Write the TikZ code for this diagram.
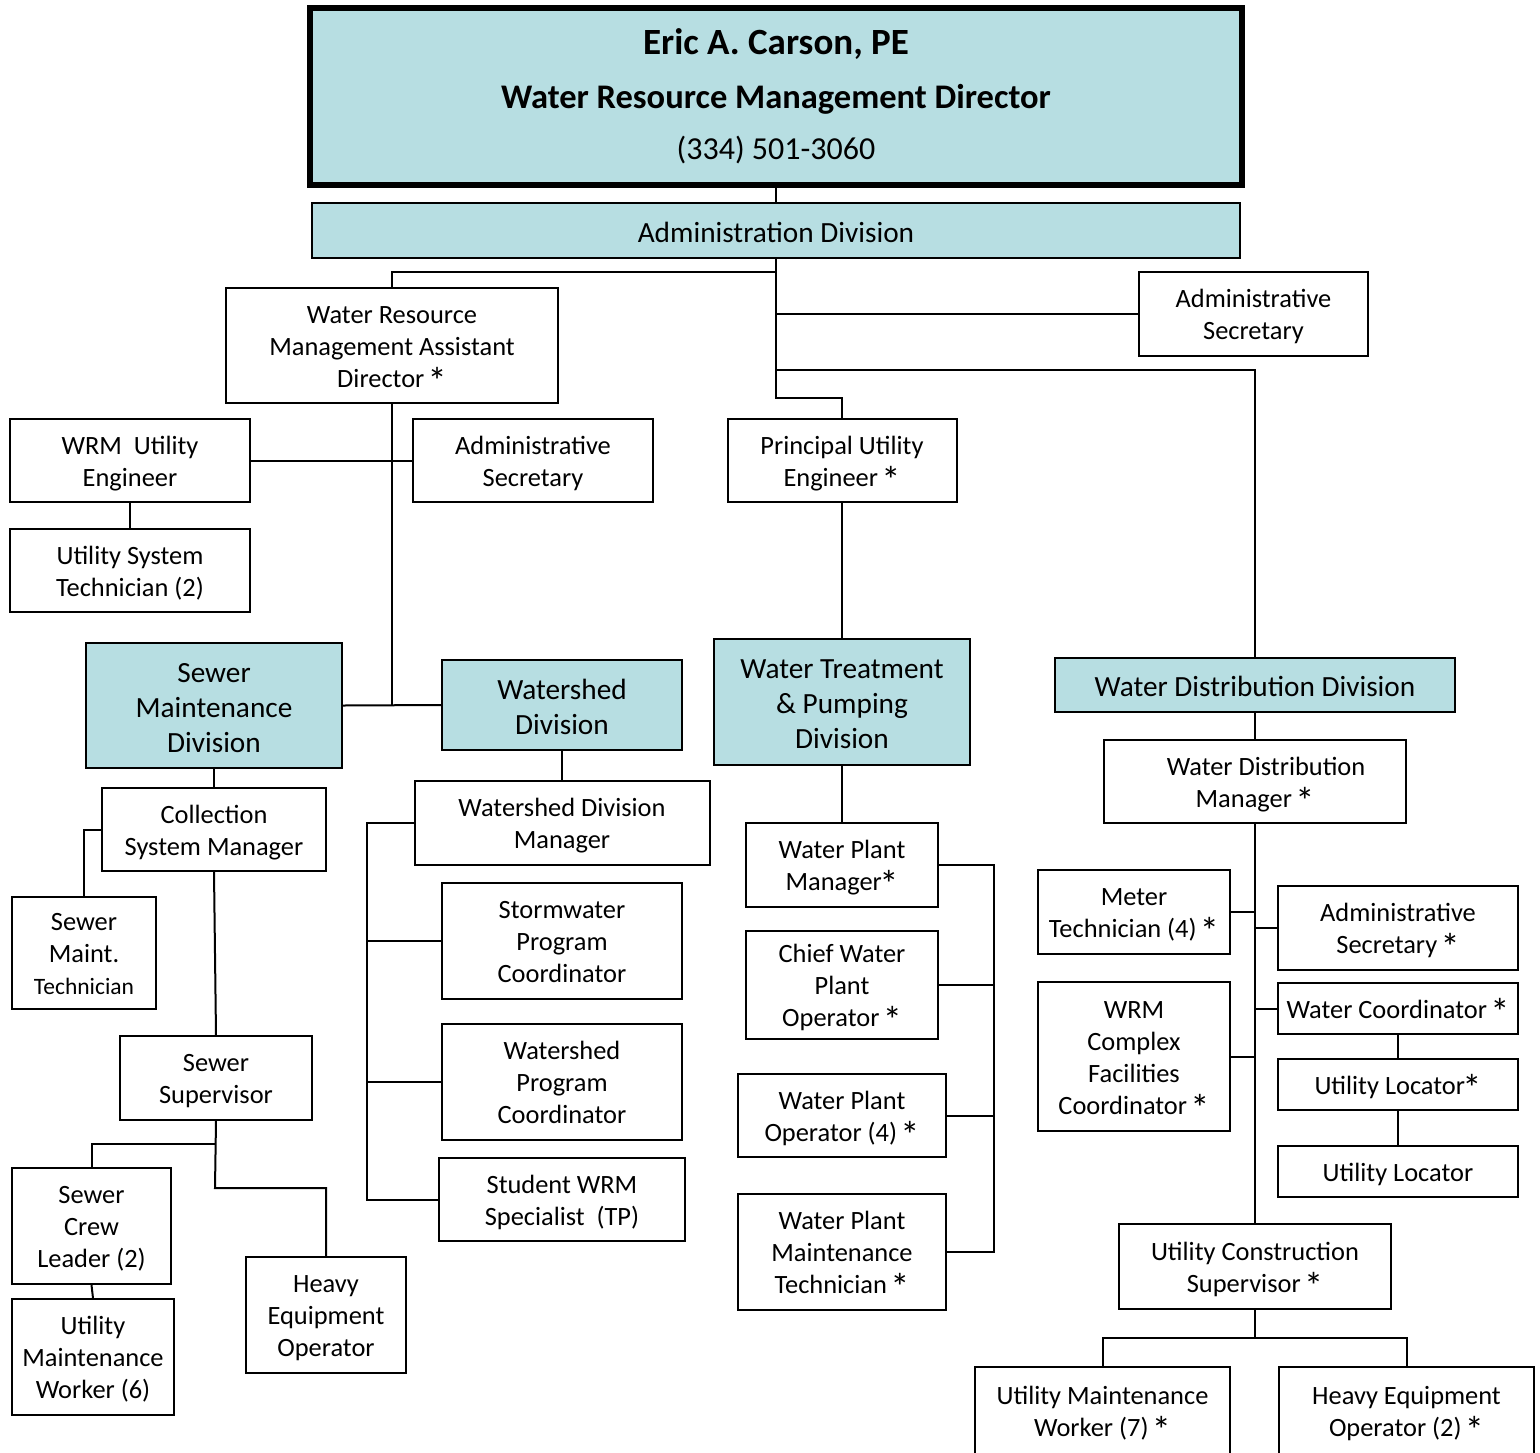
\documentclass[tikz,border=0pt]{standalone}
\usepackage{fontspec}
\setmainfont{Carlito}
\usepackage{graphicx}
\usepackage{tikz}
\usetikzlibrary{calc}
\definecolor{divfill}{RGB}{183,222,226}
\newcommand{\asterisk}{\kern-0.1em\raisebox{-0.28em}{\scalebox{1.45}{*}}}

\begin{document}
\begin{tikzpicture}[x=1pt, y=-1pt,
  box/.style={draw, line width=2pt, fill=white, align=center, inner sep=0pt,
    font=\fontsize{26.4}{32}\selectfont,
    execute at begin node={\rule{0pt}{27pt}},
    execute at end node={\rule[-8pt]{0pt}{0pt}}},
  divbox/.style={box, fill=divfill, font=\fontsize{29.3}{35}\selectfont,
    execute at begin node={\rule{0pt}{32pt}},
    execute at end node={\rule[-9pt]{0pt}{0pt}}},
  lines/.style={execute at begin node={\rule{0pt}{\dimexpr 27pt+32pt*#1-32pt\relax}}},
  dlines/.style={execute at begin node={\rule{0pt}{\dimexpr 32pt+35pt*#1-35pt\relax}}},
  link/.style={line width=2pt},
  ]
  \useasboundingbox (0,0) rectangle (1540,1452);
  % Director and administration
  \node[draw, fill=divfill, line width=6pt, minimum width=932, minimum height=177] (dir) at (776,96.5) {};
  \node[anchor=base, font=\fontsize{37}{40}\selectfont\bfseries] (dirname) at (776,54) {Eric A. Carson, PE};
  \node[anchor=base, font=\fontsize{34.5}{40}\selectfont\bfseries] (dirtitle) at (776,108) {Water Resource Management Director};
  \node[anchor=base, font=\fontsize{32}{40}\selectfont] (dirphone) at (776,159) {(334) 501-3060};
  \node[divbox, minimum width=928, minimum height=55] (admin) at (776,230.5) {Administration Division};
  \node[box, lines=2, minimum width=229, minimum height=84] (adsec1) at (1253.5,314) {Administrative\\Secretary};
  \node[box, lines=3, minimum width=332, minimum height=115] (asstdir) at (392,345.5)
    {Water Resource\\Management Assistant\\Director \asterisk};
  \node[box, lines=2, minimum width=240, minimum height=83] (wrmeng) at (130,460.5) {WRM\ \ Utility\\Engineer};
  \node[box, lines=2, minimum width=240, minimum height=83] (ustech) at (130,570.5) {Utility System\\Technician (2)};
  \node[box, lines=2, minimum width=240, minimum height=83] (adsec2) at (533,460.5) {Administrative\\Secretary};
  \node[box, lines=2, minimum width=229, minimum height=83] (pue) at (842,460.5) {Principal Utility\\Engineer \asterisk};
  % Divisions
  \node[divbox, dlines=3, minimum width=256, minimum height=125] (sewer) at (214,705.5) {Sewer\\Maintenance\\Division};
  \node[divbox, dlines=2, minimum width=240, minimum height=90] (watershed) at (562,705) {Watershed\\Division};
  \node[divbox, dlines=3, minimum width=256, minimum height=126] (wtp) at (842,702) {Water Treatment\\\& Pumping\\Division};
  \node[divbox, minimum width=400, minimum height=54] (wdd) at (1255,685) {Water Distribution Division};
  % Sewer maintenance
  \node[box, lines=2, minimum width=224, minimum height=83] (csm) at (214,829.5) {Collection\\System Manager};
  \node[box, lines=3, minimum width=144, minimum height=112] (smtech) at (84,953)
    {Sewer\\Maint.\\{\fontsize{23.5}{28}\selectfont Technician}};
  \node[box, lines=2, minimum width=192, minimum height=84] (ssup) at (216,1078) {Sewer\\Supervisor};
  \node[box, lines=3, minimum width=159, minimum height=116] (crew) at (91.5,1226) {Sewer\\Crew\\Leader (2)};
  \node[box, lines=3, minimum width=162, minimum height=116] (umw6) at (93,1357) {Utility\\Maintenance\\Worker (6)};
  \node[box, lines=3, minimum width=160, minimum height=116] (heo) at (326,1315) {Heavy\\Equipment\\Operator};
  % Watershed
  \node[box, lines=2, minimum width=295, minimum height=84] (wsdm) at (562,823) {Watershed Division\\Manager};
  \node[box, lines=3, minimum width=240, minimum height=116] (storm) at (562,941) {Stormwater\\Program\\Coordinator};
  \node[box, lines=3, minimum width=240, minimum height=116] (wspc) at (562,1082) {Watershed\\Program\\Coordinator};
  \node[box, lines=2, minimum width=246, minimum height=83] (student) at (562,1199.5) {Student WRM\\Specialist\ \ (TP)};
  % Water treatment
  \node[box, lines=2, minimum width=192, minimum height=84] (wpm) at (842,865) {Water Plant\\Manager\asterisk};
  \node[box, lines=3, minimum width=192, minimum height=108] (chief) at (842,985) {Chief Water\\Plant\\Operator \asterisk};
  \node[box, lines=2, minimum width=208, minimum height=83] (wpo) at (842,1115.5) {Water Plant\\Operator (4) \asterisk};
  \node[box, lines=3, minimum width=208, minimum height=116] (wpmt) at (842,1252) {Water Plant\\Maintenance\\Technician \asterisk};
  % Water distribution
  \node[box, lines=2, minimum width=302, minimum height=83] (wdm) at (1255,781.5) {\hspace*{22pt}Water Distribution\\Manager \asterisk};
  \node[box, lines=2, minimum width=192, minimum height=84] (meter) at (1134,912) {Meter\\Technician (4) \asterisk};
  \node[box, lines=4, minimum width=192, minimum height=149] (complex) at (1134,1056.5)
    {WRM\\Complex\\Facilities\\Coordinator \asterisk};
  \node[box, lines=2, minimum width=240, minimum height=84] (adsec3) at (1398,928) {Administrative\\Secretary \asterisk};
  \node[box, minimum width=240, minimum height=51] (wcoord) at (1398,1008.5) {Water Coordinator \asterisk};
  \node[box, minimum width=240, minimum height=51] (uloc1) at (1398,1084.5) {Utility Locator\asterisk};
  \node[box, minimum width=240, minimum height=51] (uloc2) at (1398,1171.5) {Utility Locator};
  \node[box, lines=2, minimum width=272, minimum height=85] (ucs) at (1255,1266.5) {Utility Construction\\Supervisor \asterisk};
  \node[box, lines=2, minimum width=255, minimum height=88] (umw7) at (1102.5,1411) {Utility Maintenance\\Worker (7) \asterisk};
  \node[box, lines=2, minimum width=255, minimum height=88] (heo2) at (1406.5,1411) {Heavy Equipment\\Operator (2) \asterisk};

  % Junction points
  \coordinate (tB) at (776,272);
  \coordinate (tC) at (776,314);
  \coordinate (tD) at (776,370);
  \coordinate (tA) at (776,398);
  \coordinate (tE) at (392,706);
  \coordinate (tG) at (215,1144);
  \coordinate (tF) at (215,1188);
  \coordinate (bx1) at (367,823);
  \coordinate (bx2) at (367,1199.5);
  \coordinate (rx1) at (994,865);
  \coordinate (rx2) at (994,1252);
  \coordinate (tI) at (1255,1338);

  % Connectors
  \draw[link] (dir.south) -- (admin.north);
  \draw[link] (admin.south) -- (tA) -| (pue.north);
  \draw[link] (tB) -| (asstdir.north);
  \draw[link] (tC) -- (adsec1.west);
  \draw[link] (tD) -| (wdd.north);
  \draw[link, line width=2.6pt] (asstdir.south) -- (tE);
  \draw[link] (sewer.east) -- (watershed.west);
  \draw[link] (wrmeng.east) -- (adsec2.west);
  \draw[link] (wrmeng.south) -- (ustech.north);
  \draw[link, line width=2.6pt] (pue.south) -- (wtp.north);
  % sewer branch
  \draw[link] (sewer.south) -- (csm.north);
  \draw[link] (csm.west) -| (smtech.north);
  \draw[link] (csm.south) -- (ssup.north);
  \draw[link] (ssup.south) -- (tF) -| (heo.north);
  \draw[link] (tG) -| (crew.north);
  \draw[link] (crew.south) -- (umw6.north);
  % watershed branch
  \draw[link] (watershed.south) -- (wsdm.north);
  \draw[link] (wsdm.west) -- (bx1) -- (bx2) -- (student.west);
  \draw[link] (storm.west) -- (storm.west -| bx1);
  \draw[link] (wspc.west) -- (wspc.west -| bx1);
  % water treatment branch
  \draw[link, line width=2.6pt] (wtp.south) -- (wpm.north);
  \draw[link] (wpm.east) -- (rx1) -- (rx2) -- (wpmt.east);
  \draw[link] (chief.east) -- (chief.east -| rx1);
  \draw[link] (wpo.east) -- (wpo.east -| rx1);
  % water distribution branch
  \draw[link] (wdd.south) -- (wdm.north);
  \draw[link] (wdm.south) -- (ucs.north);
  \draw[link] (meter.east) -- (meter.east -| wdm.south);
  \draw[link] (complex.east) -- (complex.east -| wdm.south);
  \draw[link] (adsec3.west) -- (adsec3.west -| wdm.south);
  \draw[link] (wcoord.west) -- (wcoord.west -| wdm.south);
  \draw[link] (wcoord.south) -- (uloc1.north);
  \draw[link] (uloc1.south) -- (uloc2.north);
  \draw[link] (ucs.south) -- (tI);
  \draw[link] (umw7.north) |- (tI) -| (heo2.north);
\end{tikzpicture}
\end{document}
